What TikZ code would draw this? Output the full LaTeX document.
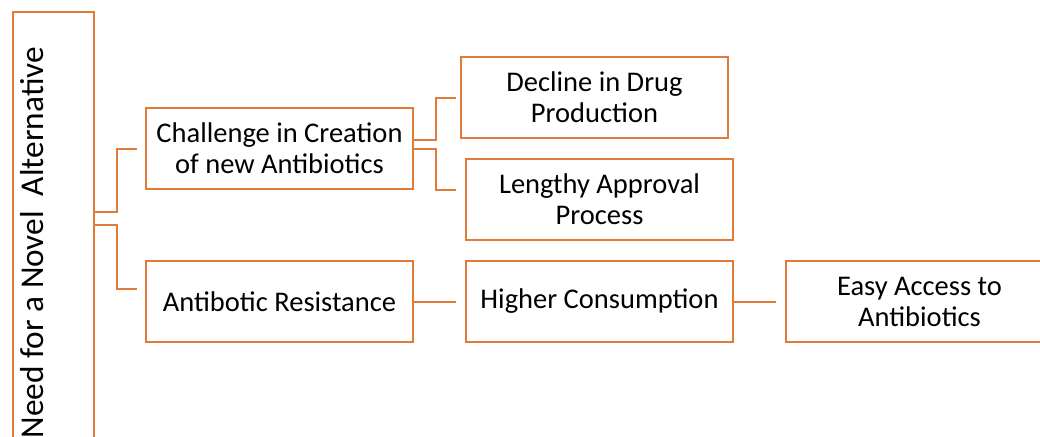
\documentclass[tikz,border=0pt]{standalone}
\usepackage{fontspec}
\setmainfont{Carlito}
\definecolor{accent}{HTML}{E07B39}
\begin{document}
\begin{tikzpicture}[x=1pt,y=-1pt,
  box/.style={draw=accent, line width=2pt, minimum width=267pt, minimum height=81pt,
    inner sep=0pt, align=center, font=\fontsize{28.5}{31}\selectfont},
  link/.style={draw=accent, line width=2pt}]
\useasboundingbox (0,0) rectangle (1040,436);
\clip (0,0) rectangle (1040,436);

% root column
\node[draw=accent, line width=2pt, minimum width=81pt, minimum height=445pt,
      inner sep=0pt, anchor=north west] (root) at (12,11) {};
\node[rotate=90, anchor=base east, inner sep=0pt,
      font=\fontsize{33.3}{37}\selectfont] (need) at (43,47) {Need for a Novel\ \ Alternative};

% boxes
\node[box] (chal) at (279.5,148.5) {Challenge in Creation\\of new Antibiotics};
\node[box] (res)  at (279.5,301.5) {Antibotic Resistance};
\node[box] (decl) at (594.5,97.5)  {Decline in Drug\\Production};
\node[box] (leng) at (599.5,199.5) {Lengthy Approval\\Process};
\node[box] (high) at (599.5,301.5) {Higher Consumption};
\node[box] (easy) at (919.5,301.5) {Easy Access to\\Antibiotics};

% connectors
\draw[link] ([yshift=-201pt]root.north east) -- ++(22,0) |- ([xshift=-8pt]chal.west);
\draw[link] ([yshift=-214pt]root.north east) -- ++(22,0) |- ([xshift=-8pt,yshift=12.5pt]res.west);
\draw[link] ([yshift=8.5pt]chal.east) -- ++(22,0) |- ([xshift=-4pt]decl.west);
\draw[link] (chal.east) -- ++(22,0) |- ([xshift=-9pt,yshift=9.5pt]leng.west);
\draw[link] (res.east) -- ([xshift=-9pt]high.west);
\draw[link] (high.east) -- ([xshift=-9pt]easy.west);
\end{tikzpicture}
\end{document}
